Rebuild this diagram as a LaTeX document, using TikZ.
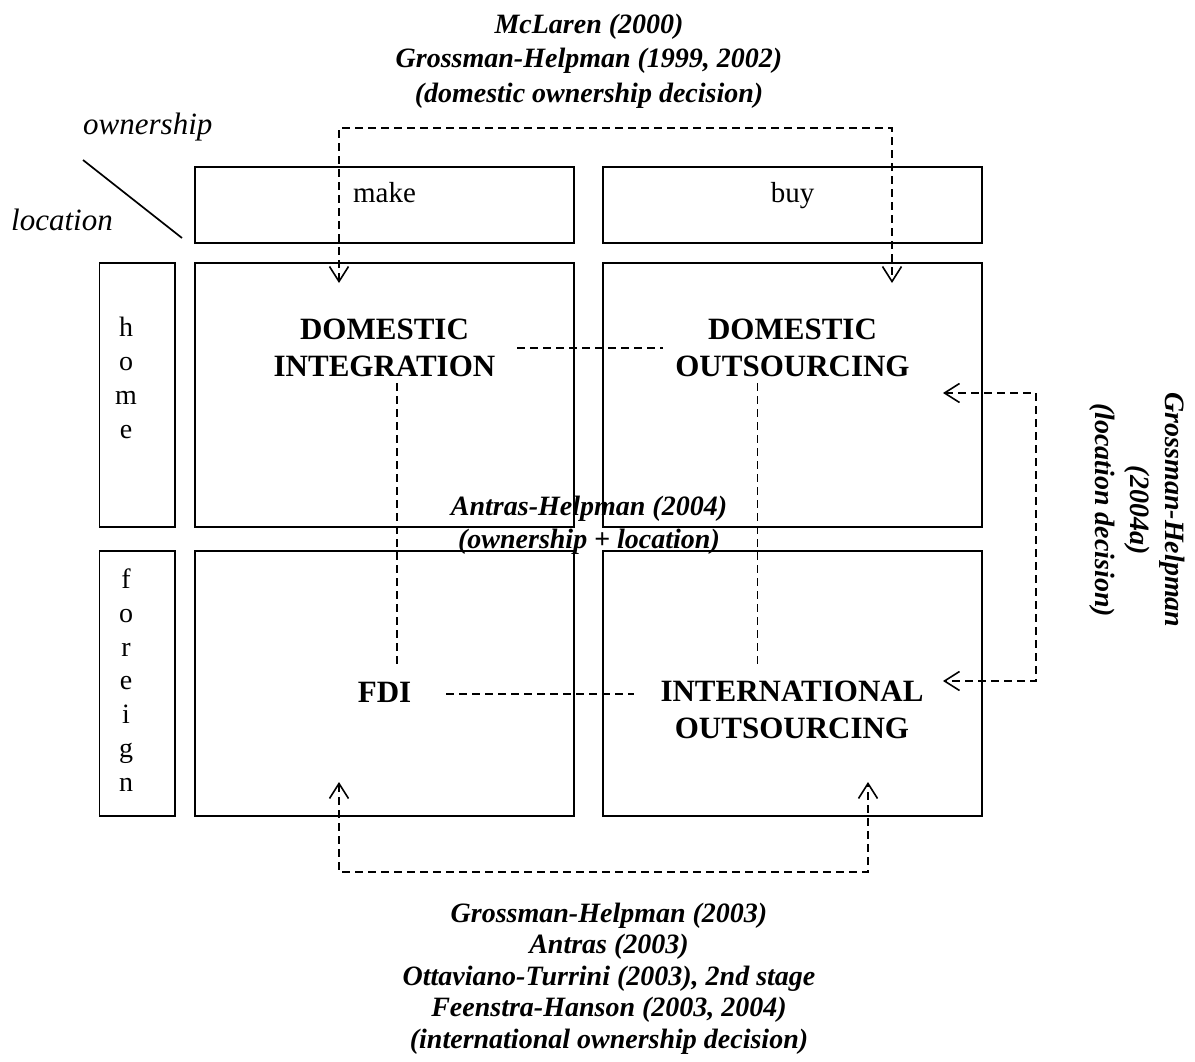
\documentclass[tikz,border=0pt]{standalone}
\usepackage{fontspec}
\setmainfont{Liberation Serif}
\usetikzlibrary{arrows.meta}
\begin{document}
\begin{tikzpicture}[x=1pt,y=-1pt,
  frame/.style={draw,line width=1.7pt,inner sep=0pt,outer sep=0pt},
  cell/.style={frame,minimum width=379pt,minimum height=264pt},
  headbox/.style={frame,minimum width=379pt,minimum height=76pt},
  sidebox/.style={frame,minimum width=75.5pt,minimum height=264pt},
  big/.style={font=\fontsize{31}{37}\selectfont\bfseries,align=center,inner sep=0pt,anchor=base},
  plain/.style={font=\fontsize{29}{34}\selectfont,inner sep=0pt,anchor=base},
  letters/.style={font=\fontsize{28}{33.7}\selectfont,align=center,inner sep=0pt,anchor=base},
  axis/.style={font=\fontsize{31}{34}\selectfont\itshape,inner sep=0pt,anchor=base west},
  ref/.style={font=\fontsize{28}{35}\selectfont\bfseries\itshape,align=center,inner sep=0pt,anchor=base},
  link/.style={line width=1.6pt,dash pattern=on 8pt off 5pt},
  tip/.style={{Straight Barb[length=15pt,width=19pt]}-{Straight Barb[length=15pt,width=19pt]}}]
\useasboundingbox (0,0) rectangle (1195,1062);

% column heads
\node[headbox] (make) at (384.5,205) {};
\node[headbox] (buy) at (792.5,205) {};
\node[plain] (maketxt) at (384.5,203) {make};
\node[plain] (buytxt) at (792.5,203) {buy};

% row heads (anchor base sits on the last line)
\node[sidebox] (home) at (137.25,395) {};
\node[sidebox,minimum height=265pt] (foreign) at (137.25,683.5) {};
\node[letters] (hometxt) at (126,438) {h\\o\\m\\e};
\node[letters] (foreigntxt) at (126,791) {f\\o\\r\\e\\i\\g\\n};

% corner labels
\node[axis] (own) at (83,135) {ownership};
\node[axis] (loc) at (11,230) {location};
\coordinate (diagA) at (83,160);
\coordinate (diagB) at (182,238);
\draw[line width=1.7pt] (diagA) -- (diagB);

% the four cells
\node[cell] (DI) at (384.5,395) {};
\node[cell] (DO) at (792.5,395) {};
\node[cell,minimum height=265pt] (FDI) at (384.5,683.5) {};
\node[cell,minimum height=265pt] (IO) at (792.5,683.5) {};

\node[big] (ditxt) at (384.5,376) {DOMESTIC\\INTEGRATION};
\node[big] (dotxt) at (792.5,376) {DOMESTIC\\OUTSOURCING};
\node[big] (fditxt) at (384.5,702) {FDI};
\node[big] (iotxt) at (792,738) {INTERNATIONAL\\OUTSOURCING};

% links between the cells
\coordinate (h1a) at (517,348);  \coordinate (h1b) at (663,348);
\coordinate (h2a) at (446,694);  \coordinate (h2b) at (634,694);
\coordinate (v1a) at (397,383);  \coordinate (v1b) at (397,668);
\coordinate (v2a) at (757.5,383); \coordinate (v2b) at (757.5,668);
\draw[link] (h1a) -- (h1b);
\draw[link] (h2a) -- (h2b);
\draw[link] (v1a) -- (v1b);
\draw[link] (v2a) -- (v2b);

% domestic ownership decision
\coordinate (tDI) at (339,283);
\coordinate (tDO) at (892,283);
\coordinate (tTop) at (339,128);
\draw[link,tip] (tDI) -- (tTop) -| (tDO);

% location decision
\coordinate (rDO) at (943,393);
\coordinate (rIO) at (943,681);
\coordinate (rSide) at (1036,393);
\draw[link,tip] (rDO) -- (rSide) |- (rIO);

% international ownership decision
\coordinate (bFDI) at (339,782);
\coordinate (bIO) at (868,782);
\coordinate (bBot) at (339,872);
\draw[link,tip] (bFDI) -- (bBot) -| (bIO);

% references
\node[ref] (reftop) at (589,103) {McLaren (2000)\\Grossman-Helpman (1999, 2002)\\(domestic ownership decision)};
\node[ref,font=\fontsize{28}{33}\selectfont\bfseries\itshape] (refmid) at (589,548) {Antras-Helpman (2004)\\(ownership + location)};
\node[ref,anchor=center,rotate=-90] (refright) at (1137,510) {Grossman-Helpman\\(2004a)\\(location decision)};
\node[ref,font=\fontsize{28}{31.5}\selectfont\bfseries\itshape] (refbot) at (609,1048) {Grossman-Helpman (2003)\\Antras (2003)\\Ottaviano-Turrini (2003), 2nd stage\\Feenstra-Hanson (2003, 2004)\\(international ownership decision)};
\end{tikzpicture}
\end{document}
